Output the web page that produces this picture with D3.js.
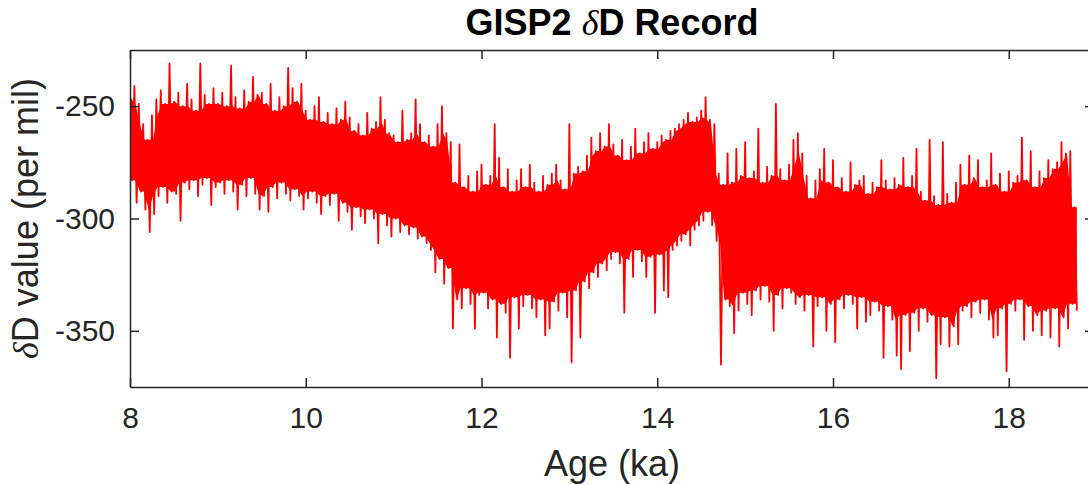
<!DOCTYPE html>
<html>
<head>
<meta charset="utf-8">
<script src="https://cdn.jsdelivr.net/npm/d3@7"></script>
<style>
  body { margin: 0; background: #fff; }
  svg { display: block; }
</style>
</head>
<body>
<svg id="chart" width="1088" height="484"></svg>
<script>
// ---------- data ----------
const xTicks = [8, 10, 12, 14, 16, 18];
const yTicks = [-350, -300, -250];
const xLimits = [8, 18.97];
const yLimits = [-375, -225];

// evenly sampled record, one value every 0.025 ka starting at 8 ka
const ageStart = 8.0;
const ageStep = 0.025;
const dD = [
  // 8.0 - 8.5
  -246,-283,-241,-293,-249,-288,-258,-296,-265,-306,-254,-298,-247,-290,-243,-286,-249,-293,-231,-288,
  // 8.5 - 9.0
  -248,-289,-244,-301,-250,-284,-240,-287,-247,-283,-252,-290,-231,-285,-245,-282,-249,-294,-242,-286,
  // 9.0 - 9.5
  -249,-284,-244,-289,-250,-283,-232,-288,-246,-296,-251,-285,-243,-290,-248,-282,-237,-289,-245,-296,
  // 9.5 - 10.0
  -244,-290,-249,-297,-240,-286,-252,-291,-246,-284,-250,-289,-233,-292,-242,-287,-248,-290,-240,-296,
  // 10.0 - 10.5
  -252,-291,-256,-288,-250,-293,-246,-298,-257,-290,-253,-294,-258,-289,-251,-301,-256,-293,-248,-297,
  // 10.5 - 11.0
  -255,-305,-261,-295,-258,-299,-263,-302,-253,-296,-260,-300,-257,-311,-246,-298,-256,-303,-262,-308,
  // 11.0 - 11.5
  -263,-300,-266,-306,-252,-303,-265,-307,-262,-304,-247,-309,-258,-308,-266,-311,-263,-314,-268,-324,
  // 11.5 - 12.0
  -258,-318,-250,-329,-262,-322,-266,-349,-284,-336,-267,-340,-286,-331,-281,-338,-288,-349,-279,-334,
  // 12.0 - 12.5
  -276,-333,-285,-340,-281,-336,-258,-353,-273,-338,-286,-342,-278,-362,-288,-335,-283,-349,-278,-339,
  // 12.5 - 13.0
  -286,-334,-276,-340,-284,-344,-288,-336,-281,-352,-285,-349,-280,-337,-276,-341,-283,-333,-287,-344,
  // 13.0 - 13.5
  -258,-364,-280,-332,-277,-353,-279,-328,-272,-331,-264,-324,-270,-326,-262,-320,-268,-323,-258,-318,
  // 13.5 - 14.0
  -267,-315,-272,-320,-265,-342,-274,-318,-268,-326,-260,-314,-271,-319,-266,-326,-262,-317,-269,-342,
  // 14.0 - 14.5
  -266,-316,-263,-332,-265,-335,-261,-314,-260,-312,-258,-310,-256,-307,-253,-312,-257,-305,-255,-303,
  // 14.5 - 15.0
  -252,-301,-246,-297,-256,-303,-258,-310,-280,-365,-285,-336,-271,-339,-284,-351,-269,-341,-281,-333,
  // 15.0 - 15.5
  -266,-338,-282,-343,-279,-332,-260,-336,-284,-330,-277,-337,-281,-350,-249,-334,-278,-340,-283,-331,
  // 15.5 - 16.0
  -276,-333,-265,-338,-262,-335,-271,-341,-281,-334,-291,-357,-283,-339,-278,-335,-269,-350,-284,-338,
  // 16.0 - 16.5
  -274,-355,-286,-336,-282,-340,-288,-334,-275,-338,-285,-349,-283,-335,-281,-346,-289,-343,-284,-337,
  // 16.5 - 17.0
  -286,-341,-274,-362,-283,-339,-287,-345,-282,-361,-285,-367,-273,-343,-286,-359,-281,-342,-269,-350,
  // 17.0 - 17.5
  -288,-340,-292,-346,-265,-343,-290,-371,-294,-356,-266,-344,-289,-357,-293,-348,-284,-356,-276,-341,
  // 17.5 - 18.0
  -285,-339,-272,-344,-282,-337,-274,-342,-286,-336,-283,-345,-271,-353,-285,-352,-280,-340,-288,-368,
  // 18.0 - 18.5
  -279,-338,-284,-341,-281,-336,-264,-354,-283,-339,-270,-350,-286,-343,-279,-352,-282,-341,-274,-353,
  // 18.5 - 18.8
  -278,-340,-275,-357,-266,-344,-271,-349,-270,-338,-295,-341
];

//*************************1. Layout
const svg = d3.select("#chart");
const margin = {left: 130, top: 50, right: 1094, bottom: 387};
const axisColor = "#262626";
const tickLen = 9;
const sans = "'Liberation Sans', Arial, sans-serif";

//*************************2. Scales
const xScale = d3.scaleLinear().domain(xLimits).range([margin.left, margin.right]);
const yScale = d3.scaleLinear().domain(yLimits).range([margin.bottom, margin.top]);

const records = dD.map((v, i) => ({age: ageStart + i * ageStep, value: v}));

// dense core of the signal: lowest peak / highest trough among neighbours
const peaks = dD.filter((v, i) => i % 2 === 0);
const troughs = dD.filter((v, i) => i % 2 === 1);
const win = 1;
const core = peaks.map((p, k) => {
  const lo = Math.max(0, k - win), hi = Math.min(peaks.length, k + win + 1);
  return {
    age: ageStart + (2 * k + 0.5) * ageStep,
    top: d3.min(peaks.slice(lo, hi)),
    bottom: d3.max(troughs.slice(lo, Math.min(troughs.length, hi)))
  };
});
core[0].age = ageStart;
core[core.length - 1].age = ageStart + (dD.length - 1) * ageStep;

//*************************3. Marks
svg.append("defs").append("clipPath").attr("id", "plotClip")
  .append("rect")
  .attr("x", margin.left).attr("y", margin.top)
  .attr("width", margin.right - margin.left)
  .attr("height", margin.bottom - margin.top);

const plot = svg.append("g").attr("clip-path", "url(#plotClip)");

const coreArea = d3.area()
  .x(d => xScale(d.age))
  .y0(d => yScale(d.bottom))
  .y1(d => yScale(d.top));

plot.append("path")
  .datum(core)
  .attr("d", coreArea)
  .attr("fill", "#ff0000");

const lineGen = d3.line()
  .x(d => xScale(d.age))
  .y(d => yScale(d.value));

plot.append("path")
  .datum(records)
  .attr("d", lineGen)
  .attr("fill", "none")
  .attr("stroke", "#ff0000")
  .attr("stroke-width", 1.8)
  .attr("stroke-linejoin", "round");

//*************************4. Axes (MATLAB style box, ticks inward)
function styleAxis(g) {
  g.select(".domain").attr("stroke", axisColor).attr("stroke-width", 1.5);
  g.selectAll(".tick line").attr("stroke", axisColor).attr("stroke-width", 1.5);
  g.selectAll(".tick text")
    .attr("fill", axisColor)
    .style("font-family", sans)
    .style("font-size", "30px");
}

svg.append("g")
  .attr("transform", `translate(0,${margin.bottom})`)
  .call(d3.axisBottom(xScale).tickValues(xTicks).tickSizeInner(-tickLen).tickSizeOuter(0).tickPadding(20))
  .call(styleAxis);

svg.append("g")
  .attr("transform", `translate(0,${margin.top})`)
  .call(d3.axisTop(xScale).tickValues(xTicks).tickSizeInner(-tickLen).tickSizeOuter(0).tickFormat(""))
  .call(styleAxis);

svg.append("g")
  .attr("transform", `translate(${margin.left},0)`)
  .call(d3.axisLeft(yScale).tickValues(yTicks).tickSizeInner(-tickLen).tickSizeOuter(0).tickPadding(15))
  .call(styleAxis);

svg.append("g")
  .attr("transform", `translate(${margin.right},0)`)
  .call(d3.axisRight(yScale).tickValues(yTicks).tickSizeInner(-tickLen).tickSizeOuter(0).tickFormat(""))
  .call(styleAxis);

// minus sign as plain hyphen like the original
svg.selectAll(".tick text").text(function () { return this.textContent.replace("\u2212", "-"); });

//*************************5. Labels
const cx = (margin.left + margin.right) / 2;

const title = svg.append("text")
  .attr("x", cx).attr("y", 35)
  .attr("text-anchor", "middle")
  .attr("fill", "#000")
  .style("font-family", sans)
  .style("font-size", "36px")
  .style("font-weight", "bold");
title.append("tspan").text("GISP2 ");
title.append("tspan").text("δ")
  .style("font-family", "'Liberation Serif', serif")
  .style("font-style", "italic")
  .style("font-weight", "normal");
title.append("tspan").text("D Record");

svg.append("text")
  .attr("x", cx).attr("y", 476)
  .attr("text-anchor", "middle")
  .attr("fill", axisColor)
  .style("font-family", sans)
  .style("font-size", "36px")
  .text("Age (ka)");

const yLabel = svg.append("text")
  .attr("transform", `translate(38,${(margin.top + margin.bottom) / 2}) rotate(-90)`)
  .attr("text-anchor", "middle")
  .attr("fill", axisColor)
  .style("font-family", sans)
  .style("font-size", "36px");
yLabel.append("tspan").text("δ")
  .style("font-family", "'Liberation Serif', serif")
  .style("font-style", "italic");
yLabel.append("tspan").text("D value (per mil)");
</script>
</body>
</html>
